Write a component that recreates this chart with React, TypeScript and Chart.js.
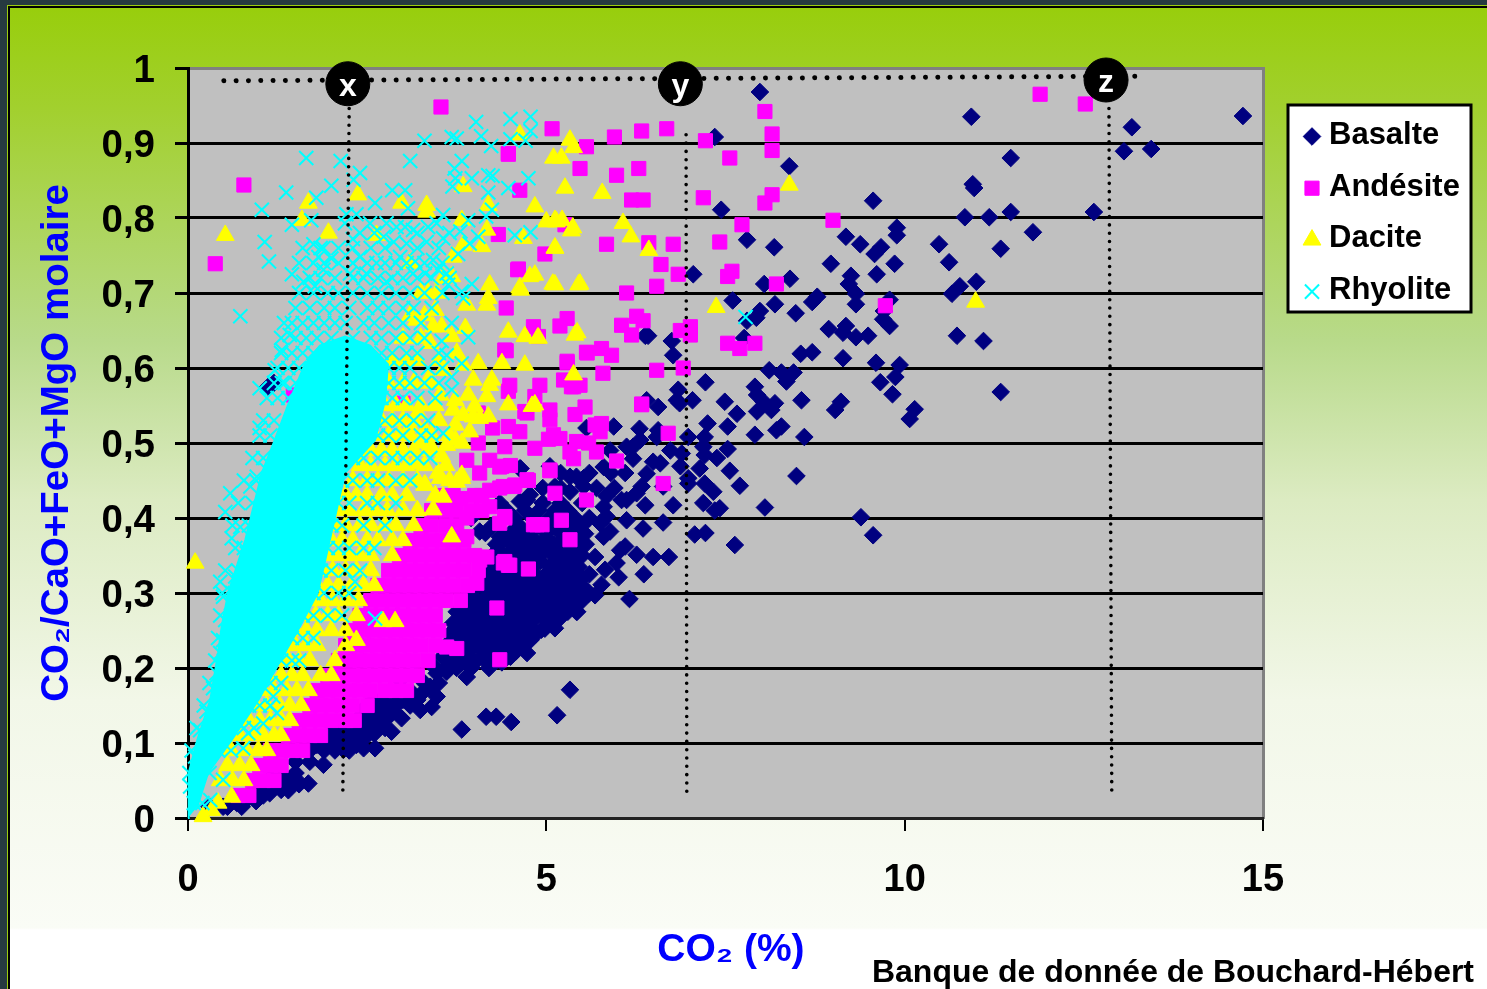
import React, { useEffect, useRef } from "react";
import { Chart, registerables } from "chart.js";
import { drawPoint } from "chart.js/helpers";

Chart.register(...registerables);

const seriesNames = ["Basalte", "Andésite", "Dacite", "Rhyolite"];
const yTickLabels = ["0", "0,1", "0,2", "0,3", "0,4", "0,5", "0,6", "0,7", "0,8", "0,9", "1"];
const xAxisTitle = "\u00A0CO₂ (%)";
const yAxisTitle = "CO₂/CaO+FeO+MgO molaire";
const sourceNote = "Banque de donnée de Bouchard-Hébert";

const basalte = [
[7.98,.968],[7.35,.908],[10.93,.935],[13.17,.921],[13.06,.889],[13.44,.892],[14.72,.936],[11.48,.88],[8.39,.869],[10.95,.845],[10.97,.84],[9.56,.823],[7.44,.811],[12.64,.808],[11.48,.808],[11.18,.801],[10.84,.801],[9.89,.787],[9.89,.777],[9.18,.775],[9.38,.765],[11.79,.781],[10.48,.765],[7.8,.771],[8.18,.761],[11.34,.759],[9.67,.761],[9.58,.752],[10.62,.741],[8.97,.739],[9.86,.739],[9.25,.723],[9.61,.725],[9.22,.712],[7.05,.725],[8.4,.719],[8.04,.712],[11.0,.715],[10.77,.709],[10.66,.699],[8.78,.695],[8.71,.688],[9.32,.699],[9.32,.685],[8.19,.685],[7.6,.69],[9.79,.691],[8.48,.673],[9.71,.676],[9.7,.665],[7.98,.676],[7.93,.667],[7.8,.663],[9.79,.656],[8.94,.652],[9.18,.656],[9.14,.647],[9.32,.641],[9.49,.643],[6.38,.643],[6.42,.643],[10.73,.643],[11.1,.636],[6.75,.636],[7.76,.64],[8.71,.621],[8.55,.619],[9.14,.613],[9.6,.607],[9.93,.604],[11.34,.568],
[9.87,.588],[9.66,.581],[9.83,.565],[10.14,.545],[10.07,.532],[8.11,.597],[8.28,.594],[8.45,.594],[8.35,.582],[8.56,.557],[9.11,.555],[9.03,.544],[7.91,.575],[7.94,.564],[8.03,.555],[8.19,.553],[8.14,.544],[7.94,.542],[7.49,.555],[7.66,.539],[7.53,.522],[7.25,.526],[7.91,.511],[8.28,.522],[8.21,.517],[8.6,.508],[7.22,.581],[7.04,.557],[6.84,.571],[6.82,.557],[6.86,.553],[6.56,.548],[6.4,.557],[6.77,.617],[6.98,.508],[7.21,.508],[7.19,.495],[7.21,.484],[7.38,.48],[7.53,.492],[7.14,.466],[7.56,.463],[6.98,.453],[6.98,.446],[7.21,.446],[7.33,.435],[7.7,.443],[7.19,.42],[6.77,.417],[7.42,.413],[7.35,.41],[8.05,.414],[8.49,.456],[9.39,.401],[9.56,.377],[7.63,.364],[6.63,.394],[7.07,.378],[7.22,.38],[6.73,.49],[6.89,.486],[6.54,.508],[6.56,.517],[6.3,.519],[5.94,.522],[5.56,.52],[6.59,.473],[6.49,.475],[6.87,.469],[6.4,.459],[6.63,.442],[6.31,.504],[6.21,.495],[6.12,.495],[6.21,.479],[5.8,.468],[5.89,.49],[6.33,.442],[6.26,.433],[6.38,.417],[6.12,.424],[6.05,.424],[6.12,.397],[6.35,.386],[5.84,.429],[5.8,.415],[5.84,.402],[5.75,.393],[5.8,.375],[5.89,.382],[5.54,.379],[6.1,.362],[6.03,.357],[6.26,.351],[6.49,.348],[6.71,.348],[5.68,.348],[6.36,.325],[5.98,.34],[5.82,.331],[6.01,.321],[5.6,.325],[5.77,.311],[5.59,.299],[5.68,.297],[6.16,.292],[5.43,.275],[5.33,.455],[5.52,.453],[5.52,.442],[5.33,.435],[5.12,.442],[4.77,.431],[4.63,.422],[4.64,.466],[5.05,.469],[5.21,.362],[5.05,.362],
[4.07,.382],[4.35,.375],[4.63,.466],[4.73,.424],[5.14,.406],[5.42,.455],[5.42,.275],[4.73,.22],[4.35,.237],[4.77,.251],[4.93,.251],[5.12,.253],[5.0,.264],[4.45,.233],[3.89,.188],[3.61,.195],[3.47,.193],[3.38,.175],[3.47,.162],[3.4,.148],[3.14,.193],[3.14,.166],[3.24,.144],[2.96,.184],[2.98,.133],[2.84,.115],[2.45,.093],[2.61,.093],[2.17,.091],[1.89,.071],[1.68,.046],[1.4,.037],[1.14,.033],[.96,.024],[.49,.015],[.68,.02],[3.82,.118],[4.16,.135],[4.3,.135],[4.51,.128],[5.15,.137],[5.33,.171],[1.2,.58],[1.12,.575]
];
const basalteRows: [number, number[]][] = [
[.015,[.3,.55,.75]],[.0225,[.6,.8,.95]],[.03,[.85,1.05]],[.0375,[.95,1.15,1.3]],[.045,[1.05,1.25,1.4,1.55]],[.0525,[1.15,1.35,1.5]],[.06,[1.3,1.5]],[.075,[1.5,1.7]],[.09,[1.7,1.9,2.05,2.25]],[.0975,[1.8,2.0,2.15,2.35]],[.105,[1.9,2.1,2.25,2.45]],[.1125,[2.0,2.2,2.4,2.6]],[.12,[2.15,2.35,2.55,2.75]],[.1275,[2.25,2.5,2.7]],[.135,[2.4,2.6,2.8]],[.1425,[2.45,2.65,2.85]],[.15,[2.5,2.7,2.9,3.1]],[.1575,[2.6,2.8,3.0,3.2]],[.165,[2.8,3.0,3.25]],[.18,[3.3,3.5]],
[.2,[3.45,3.6,3.75,3.95,4.2]],[.2075,[3.65,3.82,4.0,4.18,4.38]],[.215,[3.55,3.7,3.9,4.1,4.25,4.5]],[.2225,[3.65,3.9,4.12,4.38,4.58]],[.23,[3.6,3.8,4.0,4.25,4.5,4.65]],[.2375,[3.72,3.95,4.15,4.38,4.6,4.78]],[.245,[3.65,3.85,4.05,4.25,4.5,4.7,4.85]],[.2525,[3.78,3.95,4.15,4.4,4.6,4.8,4.98]],[.26,[3.7,3.9,4.1,4.3,4.55,4.75,5.05]],[.2675,[3.8,4.0,4.2,4.42,4.65,4.85,5.0,5.2]],[.275,[3.75,3.95,4.15,4.35,4.55,4.75,4.95,5.15,5.3]],[.2825,[3.85,4.02,4.22,4.42,4.62,4.82,5.02,5.22,5.4]],[.29,[3.9,4.1,4.3,4.5,4.7,4.9,5.1,5.3,5.5]],[.2975,[3.95,4.2,4.4,4.6,4.82,5.02,5.22,5.42]],[.305,[4.0,4.2,4.35,4.55,4.75,4.95,5.15,5.35,5.55]],[.3125,[4.08,4.25,4.45,4.65,4.85,5.05,5.25,5.45]],[.32,[4.1,4.3,4.5,4.7,4.95,5.1,5.3,5.5]],[.3275,[4.2,4.4,4.6,4.82,5.03,5.2,5.4]],[.335,[4.15,4.35,4.55,4.8,5.05,5.25,5.45]],[.3425,[4.25,4.45,4.7,4.92,5.18,5.38]],[.35,[4.25,4.4,4.65,4.85,5.1,5.3,5.5]],[.3575,[4.33,4.55,4.75,4.98,5.2,5.42]],[.365,[4.3,4.5,4.7,4.9,5.1,5.35,5.55]],[.3725,[4.4,4.6,4.82,5.0,5.25,5.45]],[.38,[4.15,4.5,4.75,5.0,5.2,5.4]],[.39,[4.25,4.62,4.88,5.1,5.3,5.5]],[.4,[3.95,4.55,4.8,5.05,5.4,5.6]],[.41,[4.45,4.7,4.9,5.12,5.3]],[.42,[4.35,4.95,5.2,5.5]],[.44,[4.95,5.2,5.7,5.95]],[.46,[5.2,5.6,5.9,6.1]]
];

const andesite = [
[3.53,.948],[11.89,.965],[12.52,.952],[.78,.844],[.38,.739],[5.08,.919],[4.47,.885],[4.63,.837],[4.98,.752],[4.6,.731],[4.47,.886],
[6.33,.916],[6.68,.919],[5.95,.908],[5.56,.895],[5.47,.866],[5.98,.857],[6.29,.866],[6.19,.824],[6.35,.824],[7.19,.827],[6.43,.767],[5.84,.765],[6.77,.765],[6.6,.738],[6.84,.725],[6.54,.709],[6.12,.7],[6.26,.669],[6.35,.663],[6.05,.657],[6.19,.644],[7.01,.655],[6.87,.65],[7.01,.644],[5.77,.626],[5.91,.617],[5.56,.621],[5.29,.609],[5.79,.593],[6.54,.597],[6.91,.6],[5.38,.575],[5.54,.548],[5.4,.538],[6.33,.552],[5.68,.524],[5.77,.526],[6.7,.513],[7.22,.903],[7.56,.88],[8.05,.942],[8.15,.912],[8.15,.89],[8.15,.831],[8.05,.82],[7.73,.791],[9.0,.797],[7.42,.768],[7.59,.729],[7.53,.722],[8.21,.712],[9.73,.683],[7.53,.633],[7.7,.626],[7.91,.633],
[4.33,.778],[4.61,.732],[4.44,.68],[4.82,.655],[4.89,.642],[5.19,.656],[5.29,.666],[4.44,.623],[5.29,.607],[4.49,.577],[4.47,.569],[4.91,.577],[4.84,.562],[5.24,.584],[4.73,.54],[5.05,.544],[5.05,.531],[4.47,.522],[4.63,.515],[5.1,.511],[5.26,.791],[1.47,.564],[3.0,.553],
[4.42,.624],[5.57,.62],[5.47,.577],[5.35,.575],[6.33,.551],[4.7,.542],[5.75,.515],[5.19,.506],[5.03,.505],[5.42,.502],[5.59,.5],[4.84,.493],[4.42,.495],[5.33,.488],[5.7,.488],[5.38,.479],[5.98,.476],[4.38,.469],[5.05,.463],[6.63,.446],[4.75,.45],[4.56,.444],[4.4,.442],[5.12,.433],[5.56,.424],[4.42,.4],[4.87,.391],[4.94,.391],[5.21,.397],[5.33,.371],[4.42,.342],[4.75,.332],[4.49,.337],
[3.89,.477],[4.21,.477],[4.35,.468],[4.07,.46],[4.73,.451],[4.54,.442],[4.21,.437],[4.21,.415],[5.05,.464],[3.8,.426],[4.42,.402],[4.35,.393],[3.89,.4],[3.89,.375],[4.82,.391],[4.07,.344],[4.17,.348],[4.4,.34],[4.47,.337],[4.03,.313],[4.31,.28],[3.61,.228],[3.75,.226],[4.35,.211],
[4.05,.5],[4.25,.52],[4.05,.54],[4.5,.47],[4.35,.44],[4.0,.43]
];
const andesiteRows: [number, number[]][] = [
[.03,[.7,.85]],[.05,[.9,1.05,1.2]],[.07,[1.0,1.15,1.3]],[.09,[1.15,1.3,1.45,1.6]],[.11,[1.4,1.55,1.7,1.85]],[.13,[1.55,1.7,1.85,2.0,2.2,2.32]],[.15,[1.7,1.85,2.0,2.15,2.3,2.5]],[.17,[1.8,1.95,2.1,2.25,2.4,2.55,2.75,2.9,3.05]],[.19,[1.95,2.1,2.3,2.45,2.6,2.75,2.9,3.05,3.2]],[.21,[2.1,2.25,2.4,2.55,2.7,2.85,3.0,3.15,3.35]],[.23,[2.2,2.35,2.5,2.65,2.8,2.95,3.1,3.25,3.45]],[.25,[2.3,2.45,2.6,2.75,2.9,3.05,3.2,3.35,3.5]],[.27,[2.4,2.55,2.7,2.85,3.0,3.15,3.3,3.45]],[.29,[2.55,2.7,2.85,3.0,3.15,3.3,3.45,3.6,3.8]],[.31,[2.65,2.8,2.95,3.1,3.25,3.4,3.55,3.7,3.9]],[.33,[2.8,2.95,3.1,3.25,3.4,3.55,3.7,3.85,4.05]],[.35,[2.95,3.1,3.25,3.4,3.55,3.7,3.85,4.0]],[.37,[3.1,3.25,3.4,3.55,3.7,3.85]],[.39,[3.25,3.4,3.6,3.75]],[.41,[3.4,3.6,3.75,3.95,4.1]],[.43,[3.55,3.7,4.1]]
];

const dacite = [
[4.63,.911],[5.33,.904],[5.38,.894],[5.10,.88],[5.21,.88],[5.26,.84],[3.84,.842],[2.37,.831],[1.68,.82],[3.33,.817],[2.98,.82],[3.33,.808],[4.84,.815],[5.0,.795],[5.14,.795],[5.35,.783],[4.19,.817],[1.59,.797],[3.82,.797],[.52,.777],[1.96,.78],[4.17,.784],[4.68,.773],[2.63,.777],[4.10,.762],[3.84,.764],[5.12,.76],[3.7,.748],[4.77,.722],[4.21,.711],[5.12,.711],[5.45,.711],[4.64,.704],[4.19,.693],[4.17,.684],[3.89,.684],[3.47,.7],[3.56,.72],[3.68,.722],[3.45,.677],[4.47,.648],[4.7,.642],[4.89,.64],[3.42,.655],[3.38,.633],[3.54,.655],[3.68,.642],[3.87,.653],[3.19,.664],[3.1,.74],[5.4,.644],[4.05,.606],[4.38,.606],[4.7,.604],[3.56,.597],[3.75,.62],[3.84,.604],[3.98,.584],[4.24,.584],[4.17,.562],[3.91,.564],[3.35,.584],[3.52,.564],[4.47,.551],[4.8,.549],[4.0,.549],[4.19,.535],[3.7,.544],[3.84,.537],[3.98,.535],[3.73,.524],[3.93,.515],[3.21,.54],[3.1,.522],[3.31,.517],[5.38,.591],
[5.78,.833],[6.07,.793],[6.18,.775],[6.43,.757],[5.12,.797],[5.22,.797],[5.37,.787],[5.12,.76],[5.09,.712],[5.47,.712],[4.84,.724],[4.63,.707],[7.37,.681],[10.99,.688],[8.39,.844],[4.88,.64],[5.43,.647],[.1,.34],[4.21,.577],[4.84,.551],[3.73,.557],[4.07,.533],[3.73,.504],[3.38,.497],[3.82,.453],[3.52,.453],[3.31,.444],
[3.24,.5],[3.61,.497],[3.82,.5],[3.54,.482],[3.17,.473],[3.49,.46],[3.82,.457],[3.75,.448],[3.3,.444],[3.56,.428],[3.42,.411],[3.68,.375],[2.89,.262],[2.72,.262],[2.35,.237],[.33,.01],[.21,.002],[.42,.02],[.61,.028]
];
const daciteRows: [number, number[]][] = [
[.05,[.45,.62,.78]],[.07,[.55,.72,.88]],[.09,[.6,.82,.98,1.1]],[.11,[.72,.9,1.05,1.2,1.3]],[.13,[.85,1.0,1.15,1.3,1.42]],[.15,[.95,1.1,1.28,1.42,1.58]],[.17,[1.05,1.2,1.38,1.52,1.68]],[.19,[1.12,1.3,1.45,1.6,1.85,2.0]],[.21,[1.25,1.4,1.55,1.7,2.05]],[.23,[1.35,1.5,1.65,1.8,2.2]],[.25,[1.5,1.65,1.8,2.0,2.2]],[.27,[1.62,1.78,1.95,2.1,2.35]],[.29,[1.72,1.85,2.02,2.2,2.38]],[.31,[1.8,1.95,2.1,2.28,2.45,2.6]],[.33,[1.88,2.02,2.2,2.35,2.55]],[.35,[1.95,2.1,2.25,2.4,2.55,2.85]],[.37,[2.0,2.15,2.3,2.5,2.65,2.85,3.0]],[.39,[2.05,2.2,2.4,2.55,2.75,2.9,3.15]],[.41,[2.1,2.25,2.45,2.6,2.78,3.0,3.2]],[.43,[2.2,2.35,2.5,2.7,2.85,3.05,3.45]],[.45,[2.3,2.5,2.65,2.8,3.0,3.2,3.65]],[.47,[2.4,2.55,2.75,2.9,3.05,3.3,3.6]],[.49,[2.55,2.7,2.85,3.0,3.15,3.4]],[.51,[2.6,2.8,2.95,3.1,3.4,3.65]],[.53,[2.7,2.85,3.0,3.15,3.5]],[.55,[2.75,2.9,3.05,3.25,3.45]],[.58,[2.8,3.0,3.15,3.4]],[.61,[2.85,3.05,3.2,3.5]],[.64,[3.0,3.25]],[.67,[3.1,3.3]],[.7,[3.25,3.35]]
];

const rhyolite = [
[4.02,.928],[4.5,.932],[4.78,.935],[4.09,.909],[4.78,.916],[3.68,.908],[3.75,.906],[3.3,.903],[4.23,.896],[4.5,.905],[4.71,.903],[1.65,.88],[2.13,.876],[3.1,.876],[3.82,.876],[3.72,.866],[2.4,.86],[2.31,.851],[3.73,.853],[3.69,.842],[3.96,.853],[4.25,.856],[4.19,.857],[4.75,.853],[4.47,.84],[2.0,.843],[1.37,.834],[1.79,.827],[2.85,.837],[3.03,.837],[4.19,.834],[1.03,.811],[2.61,.82],[3.07,.813],[4.24,.811],[2.35,.805],[2.21,.805],[3.56,.804],[1.45,.791],[1.72,.797],[2.19,.793],[2.54,.793],[2.77,.793],[3.91,.797],[4.16,.802],[4.56,.777],[4.78,.781],[1.07,.768],[2.3,.772],[2.73,.775],[2.91,.788],[3.03,.788],[3.14,.784],[3.35,.788],[3.47,.793],[3.56,.773],[3.8,.782],[4.05,.775],[3.93,.766],[3.33,.768],[3.05,.766],[2.87,.768],[1.13,.742],[1.75,.765],[1.89,.76],[1.82,.748],[2.0,.746],[2.4,.748],[2.63,.74],[2.96,.748],[3.17,.742],[3.42,.744],[3.77,.752],[1.45,.725],[1.61,.715],[1.89,.731],[1.77,.709],[2.26,.726],[2.49,.726],[2.77,.715],[3.14,.726],[3.31,.726],[3.49,.731],[3.61,.726],[3.63,.711],[3.96,.712],[3.82,.702],[3.84,.693],[.73,.669],[1.34,.66],[1.42,.644],[1.31,.624],[1.21,.597],[1.31,.58],[1.0,.573],[3.68,.588],[3.68,.571],[3.56,.513],[1.0,.52],[3.54,.636],[3.91,.641],[3.61,.617],[3.82,.606],[3.68,.66],[7.78,.668],
[.59,.433],[.52,.408],[.87,.442],[.96,.455],[1.1,.464],[.73,.388],[.61,.373],[.82,.353],[.45,.315],[.66,.322],[.49,.295],[.52,.264],[.49,.237],[.45,.22],[.4,.193],[.35,.173],[.26,.142],[.17,.117],[.1,.082],[.03,.042],[3.38,.48],[2.33,.315],[2.61,.266],[1.19,.162],[1.24,.14],[1.05,.126],[.84,.113],[.77,.093],[.49,.051],[.31,.024]
];
const rhyoliteRows: [number, number[]][] = [
[.02,[.08,.2]],[.06,[.02,.15,.3]],[.09,[.05,.2,.42,.6]],[.12,[.12,.32,.55,.78,.92]],[.15,[.22,.5,.85,1.0,1.15]],[.18,[.3,.6,1.0,1.15,1.3]],[.21,[.38,.5,1.3,1.45,1.55]],[.24,[.42,.55,1.45,1.6,1.75]],[.27,[.45,.6,1.6,1.75,1.95,2.15]],[.3,[.48,.62,1.75,1.9,2.1,2.25]],[.33,[.52,.7,1.85,2.0,2.2,2.4]],[.36,[.66,.78,1.95,2.1,2.25,2.45,2.6]],[.39,[.62,.85,2.0,2.15,2.45,2.75]],[.42,[.7,.9,2.1,2.25,2.5,2.65,2.9]],[.45,[.78,.95,2.15,2.3,2.5,2.65,2.9,3.1]],[.48,[.9,1.05,2.3,2.45,2.65,2.85,3.0,3.2]],[.51,[1.0,1.15,2.5,2.65,2.8,3.0,3.25,3.4]],[.53,[1.05,1.2,2.6,2.75,2.95,3.15,3.35]],[.56,[1.1,1.25,1.4,2.7,2.85,3.0,3.2,3.45]],[.58,[1.2,1.35,1.5,2.8,2.95,3.1,3.3,3.5]],[.6,[1.25,1.4,1.55,2.8,2.95,3.1,3.35,3.55]],[.62,[1.3,1.45,1.6,1.75,2.7,2.85,3.05,3.2,3.5]],[.64,[1.3,1.5,1.65,1.8,2.0,2.3,2.55,2.7,2.9,3.1,3.3]],[.66,[1.45,1.6,1.75,1.9,2.05,2.2,2.45,2.6,2.8,3.0,3.25]],[.68,[1.5,1.7,1.9,2.05,2.25,2.5,2.65,2.8,3.0,3.15,3.4]],[.7,[1.55,1.75,1.95,2.1,2.3,2.5,2.7,2.9,3.1,3.3,3.55]],[.72,[1.7,1.85,2.05,2.3,2.45,2.65,2.85,3.0,3.2,3.4,3.65]],[.74,[1.55,1.75,1.9,2.1,2.3,2.5,2.75,2.9,3.05,3.3,3.55]],[.76,[1.6,1.85,2.1,2.3,2.55,2.75,3.2,3.5]],[.78,[2.4,2.6,3.2,3.65]]
];

// Outline of the area where the Rhyolite crosses overlap into solid colour.
const rhyoliteCoreX = [0,.01,.13,.31,.42,.47,.56,.8,1.03,1.21,1.42,1.63,1.84,2.19,2.54,2.79,2.75,2.61,2.19,1.98,1.81,1.56,1.35,.98,.61,.28,.13];
const rhyoliteCoreY = [0,.06,.104,.157,.22,.255,.3,.371,.46,.504,.557,.605,.63,.642,.63,.605,.557,.504,.46,.371,.3,.255,.22,.157,.104,.06,.015];

const guideH = [[.5,.983],[13.24,.989]];
const guideX = [[2.25,.957],[2.16,.031]];
const guideY = [[6.95,.911],[6.96,.031]];
const guideZ = [[12.85,.957],[12.89,.031]];
const badgePoints = [[2.23,.979],[6.87,.979],[12.81,.984]];
const badgeLabels = ["x", "y", "z"];

const FONT = "'Liberation Sans', Arial, sans-serif";
const toXY = (p: number[][]) => p.map(([x, y]) => ({ x, y }));
const fromRows = (rows: [number, number[]][]) => rows.flatMap(([y, xs]) => xs.map((x) => [x, y]));

const pointSet = (label: string, data: number[][], style: string, r: number, color: string, order: number, bw = 1) => ({
  label, data: toXY(data), pointStyle: style, pointRadius: r, pointHoverRadius: r,
  pointBackgroundColor: color, pointBorderColor: color, pointBorderWidth: bw, showLine: false, clip: false, order,
});
const guide = (data: number[][], width: number, gap: number) => ({
  label: "", data: toXY(data), showLine: true, pointRadius: 0, borderColor: "#000", borderWidth: width,
  borderDash: [0.01, gap], borderCapStyle: "round", order: -1, clip: false,
});

const frame = {
  id: "frame",
  beforeDraw(c: any) {
    const { ctx, chartArea: a } = c;
    ctx.save();
    ctx.fillStyle = "#C0C0C0";
    ctx.fillRect(a.left, a.top, a.right - a.left, a.bottom - a.top);
    ctx.fillStyle = "#808080";
    ctx.fillRect(a.right - 1, a.top - 1, 3, a.bottom - a.top + 2);
    ctx.restore();
  },
  afterDatasetsDraw(c: any) {
    const { ctx } = c;
    ctx.save();
    const idx = c.data.datasets.findIndex((d: any) => d.label === "badges");
    const meta = c.getDatasetMeta(idx);
    ctx.fillStyle = "#fff";
    ctx.font = `bold 32px ${FONT}`;
    ctx.textAlign = "center";
    ctx.textBaseline = "middle";
    meta.data.forEach((el: any, i: number) => ctx.fillText(badgeLabels[i], el.x, el.y + 3));
    const L = 1288, T = 105, W = 183, H = 207;
    ctx.fillStyle = "#fff";
    ctx.fillRect(L, T, W, H);
    ctx.strokeStyle = "#000";
    ctx.lineWidth = 3;
    ctx.strokeRect(L, T, W, H);
    seriesNames.forEach((name, i) => {
      const d: any = c.data.datasets[i];
      const y = T + 30.5 + i * 51.7;
      ctx.fillStyle = d.pointBackgroundColor;
      ctx.strokeStyle = d.pointBorderColor;
      ctx.lineWidth = d.pointBorderWidth;
      drawPoint(ctx, { pointStyle: d.pointStyle, radius: d.pointRadius, rotation: 0, borderWidth: d.pointBorderWidth }, L + 24, y + 1);
      ctx.fillStyle = "#000";
      ctx.font = `bold 31px ${FONT}`;
      ctx.textAlign = "left";
      ctx.textBaseline = "middle";
      ctx.fillText(name, L + 41, y);
    });
    ctx.font = `bold 32px ${FONT}`;
    ctx.textAlign = "right";
    ctx.textBaseline = "alphabetic";
    ctx.fillStyle = "#000";
    ctx.fillText(sourceNote, 1474, 982, 602);
    ctx.restore();
  },
};

export default function App() {
  const ref = useRef<HTMLCanvasElement>(null);
  useEffect(() => {
    const chart = new Chart(ref.current as any, {
      type: "scatter",
      data: {
        datasets: [
          pointSet(seriesNames[0], [...basalte, ...fromRows(basalteRows)], "rectRot", 8.8, "#000080", 6),
          pointSet(seriesNames[1], [...andesite, ...fromRows(andesiteRows)], "rect", 10, "#FF00FF", 5),
          pointSet(seriesNames[2], [...dacite, ...fromRows(daciteRows)], "triangle", 10.3, "#FFFF00", 4),
          pointSet(seriesNames[3], [...rhyolite, ...fromRows(rhyoliteRows)], "crossRot", 10, "#00FFFF", 2, 2),
          {
            label: "", data: rhyoliteCoreX.map((x, i) => ({ x, y: rhyoliteCoreY[i] })), showLine: true, fill: "shape",
            pointRadius: 0, borderColor: "#00FFFF", backgroundColor: "#00FFFF", borderWidth: 2, order: 3, clip: false,
          },
          guide(guideH, 5, 12.3), guide(guideX, 3.6, 8.3), guide(guideY, 3.6, 8.3), guide(guideZ, 3.6, 8.3),
          {
            label: "badges", data: toXY(badgePoints), showLine: false, pointStyle: "circle", pointRadius: 22,
            pointBackgroundColor: "#000", pointBorderColor: "#000", order: -2, clip: false,
          },
        ],
      } as any,
      options: {
        responsive: false,
        animation: false,
        devicePixelRatio: 1,
        layout: { padding: { top: 68, right: 224, left: 0, bottom: 0 } },
        plugins: { legend: { display: false }, tooltip: { enabled: false } },
        scales: {
          x: {
            type: "linear", min: 0, max: 15,
            afterFit: (s: any) => { s.height = 171; },
            ticks: { stepSize: 5, color: "#000", font: { family: FONT, weight: "bold", size: 38 }, padding: 27, maxRotation: 0 },
            grid: { drawOnChartArea: false, color: "#000", tickColor: "#000", tickLength: 13, lineWidth: 2 },
            border: { color: "#222", width: 3 },
            title: { display: true, text: xAxisTitle, color: "#0000FF", font: { family: FONT, weight: "bold", size: 39 }, padding: { top: 0, bottom: 15 } },
          },
          y: {
            type: "linear", min: 0, max: 1,
            afterFit: (s: any) => { s.width = 188; },
            ticks: { stepSize: 0.1, color: "#000", font: { family: FONT, weight: "bold", size: 38.5 }, padding: 20, labelOffset: 3, callback: (_v: any, i: number) => yTickLabels[i] },
            grid: { color: (c: any) => (c.index === 10 ? "#808080" : "#000"), tickColor: "#000", tickLength: 13, lineWidth: 3 },
            border: { color: "#000", width: 3 },
            title: { display: true, text: yAxisTitle, color: "#0000FF", font: { family: FONT, weight: "bold", size: 38.5 }, padding: { top: 34, bottom: 0 } },
          },
        },
      },
      plugins: [frame],
    } as any);
    return () => chart.destroy();
  }, []);
  return (
    <div style={{ position: "fixed", left: 0, top: 0, width: 1487, height: 989, overflow: "hidden", background: "#263A40" }}>
      <div style={{ position: "absolute", left: 7, top: 5, right: 0, bottom: 0, background: "#9ACD0F" }} />
      <div style={{ position: "absolute", left: 8, top: 6, right: 0, bottom: 0, background: "#000" }} />
      <div style={{ position: "absolute", left: 10, top: 8, right: 0, bottom: 0, background: "linear-gradient(180deg,#98CE0C 0px,#A2D02E 100px,#B8DA8A 332px,#DCEBC2 492px,#F2F7E8 692px,#FAFCF6 920px,#FFFFFF 922px)" }} />
      <canvas ref={ref} width={1487} height={989} style={{ position: "absolute", left: 0, top: 0, display: "block" }} />
    </div>
  );
}
